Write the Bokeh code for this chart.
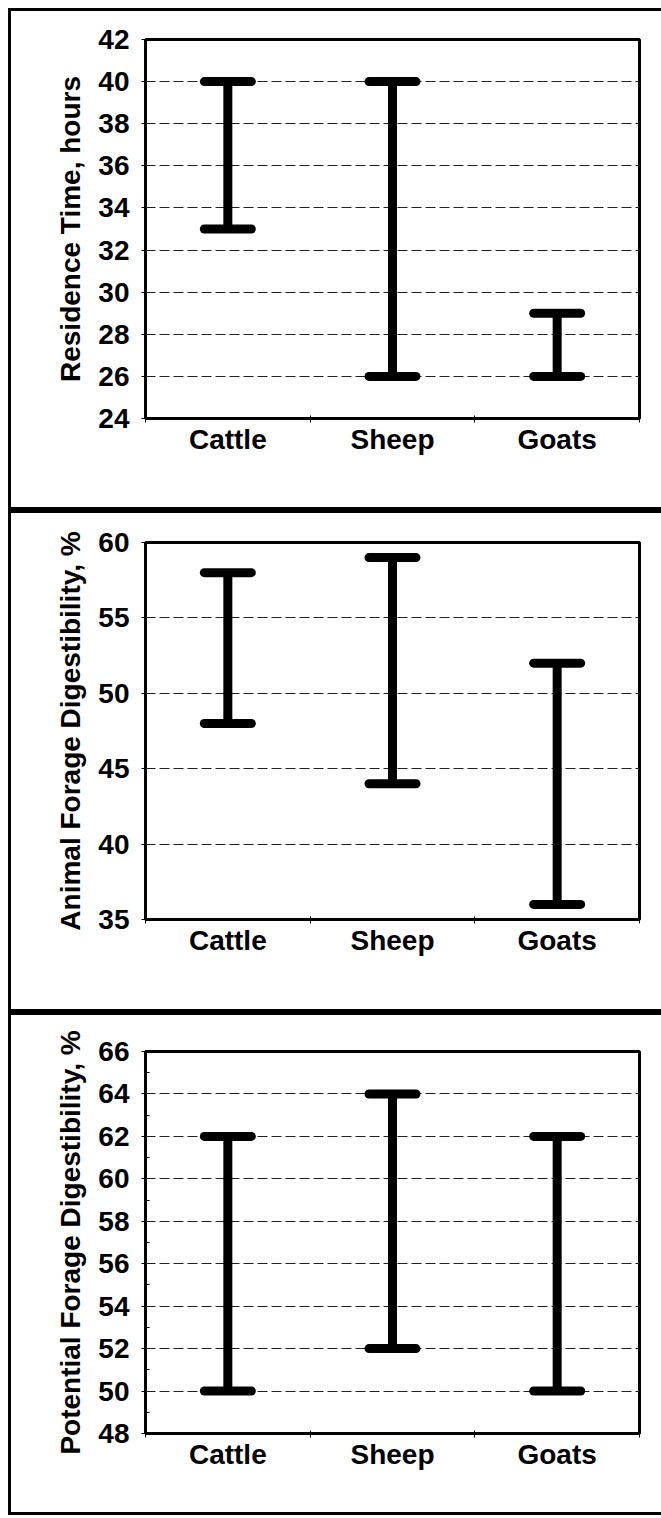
from bokeh.plotting import figure
from bokeh.models import Range1d, FixedTicker, Whisker, TeeHead, ColumnDataSource
from bokeh.layouts import column
from bokeh.embed import file_html
from bokeh.resources import INLINE

# ---- data ----
categories = ["Cattle", "Sheep", "Goats"]

residence_low = [33, 26, 26]
residence_high = [40, 40, 29]
residence_ticks = [24, 26, 28, 30, 32, 34, 36, 38, 40, 42]

animal_low = [48, 44, 36]
animal_high = [58, 59, 52]
animal_ticks = [35, 40, 45, 50, 55, 60]

potential_low = [50, 52, 50]
potential_high = [62, 64, 62]
potential_ticks = [48, 50, 52, 54, 56, 58, 60, 62, 64, 66]
potential_minor = [49, 51, 53, 55, 57, 59, 61, 63, 65]

ylabels = ["Residence Time, hours",
           "Animal Forage Digestibility, %",
           "Potential Forage Digestibility, %"]

FONT = "Liberation Sans"
W = 650


def panel(low, high, ticks, minor, ylabel, height, b_top, b_bottom, b_left, b_right):
    n = len(categories)
    centers = [i + 0.5 for i in range(n)]
    bounds = [float(i) for i in range(n + 1)]
    p = figure(width=W, height=height, output_backend="svg", toolbar_location=None,
               x_range=Range1d(0, n), y_range=Range1d(ticks[0], ticks[-1]),
               min_border_top=b_top, min_border_bottom=b_bottom,
               min_border_left=b_left, min_border_right=b_right)
    p.background_fill_color = "white"
    p.border_fill_color = "white"
    p.outline_line_color = "black"
    p.outline_line_width = 3

    # x axis: labels at centres, ticks at category boundaries
    xa = p.xaxis[0]
    xa.ticker = FixedTicker(ticks=centers, minor_ticks=bounds)
    xa.major_label_overrides = {c: lab for c, lab in zip(centers, categories)}
    xa.major_tick_out = 0
    xa.major_tick_in = 0
    xa.minor_tick_out = 4
    xa.minor_tick_in = 3
    xa.minor_tick_line_color = "black"
    xa.axis_line_color = None
    xa.major_label_standoff = 1
    xa.major_label_text_font = FONT
    xa.major_label_text_font_style = "bold"
    xa.major_label_text_font_size = "28px"
    xa.major_label_text_color = "black"

    ya = p.yaxis[0]
    ya.ticker = FixedTicker(ticks=ticks, minor_ticks=minor)
    ya.major_tick_out = 4
    ya.major_tick_in = 0
    ya.major_tick_line_color = "black"
    if minor:
        ya.minor_tick_in = 4
        ya.minor_tick_out = 0
        ya.minor_tick_line_color = "black"
    else:
        ya.minor_tick_line_color = None
    ya.axis_line_color = None
    ya.major_label_standoff = 12
    ya.major_label_text_font = FONT
    ya.major_label_text_font_style = "bold"
    ya.major_label_text_font_size = "28px"
    ya.major_label_text_color = "black"
    ya.axis_label = ylabel
    ya.axis_label_standoff = 9
    ya.axis_label_text_font = FONT
    ya.axis_label_text_font_style = "bold"
    ya.axis_label_text_font_size = "28px"
    ya.axis_label_text_color = "black"

    p.xgrid.grid_line_color = None
    p.ygrid.ticker = FixedTicker(ticks=ticks[1:-1])
    p.ygrid.grid_line_color = "#222222"
    p.ygrid.grid_line_width = 1
    p.ygrid.grid_line_dash = "10 4"

    src = ColumnDataSource(data=dict(x=centers, low=low, high=high))
    w = Whisker(base="x", lower="low", upper="high", source=src, dimension="height",
                line_color="black", line_width=9,
                upper_head=TeeHead(size=47, line_width=9, line_color="black", line_cap="round"),
                lower_head=TeeHead(size=47, line_width=9, line_color="black", line_cap="round"))
    p.add_layout(w)

    p.styles = {"border-left": "3px solid black", "border-top": "3px solid black",
                "border-bottom": "3px solid black", "box-sizing": "content-box"}
    return p


p1 = panel(residence_low, residence_high, residence_ticks, [], ylabels[0], 496, 28, 95, 131, 25)
p2 = panel(animal_low, animal_high, animal_ticks, [], ylabels[1], 496, 29, 96, 131, 25)
p3 = panel(potential_low, potential_high, potential_ticks, potential_minor, ylabels[2], 497, 36, 85, 134, 21)

layout = column(p1, p2, p3, spacing=0)
layout.styles = {"margin-left": "8px", "margin-top": "8px"}
open("out.html", "w").write(file_html(layout, INLINE))
